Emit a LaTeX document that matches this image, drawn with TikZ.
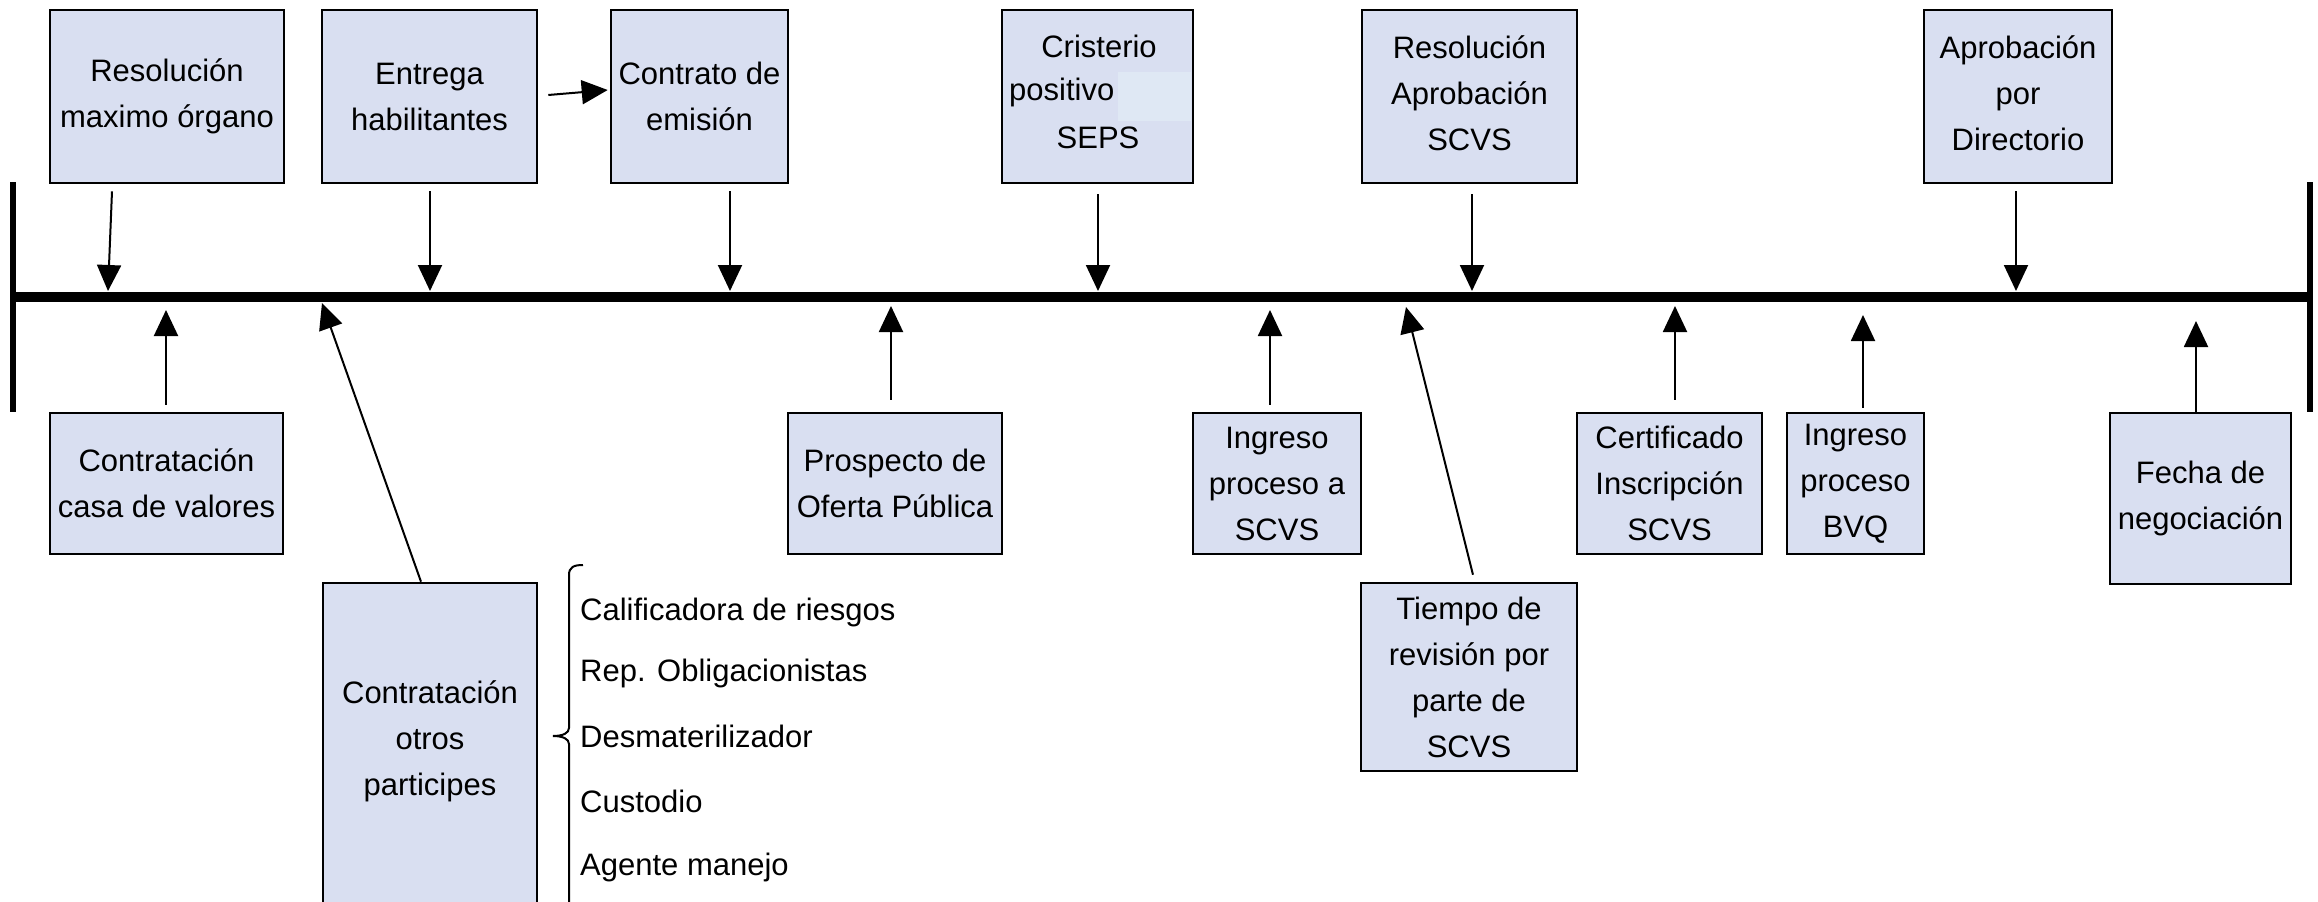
\documentclass[tikz,border=0pt]{standalone}
\usepackage{fontspec}
\setmainfont{Liberation Sans}
\usetikzlibrary{arrows.meta}
\definecolor{boxfill}{HTML}{D9DFF1}
\definecolor{hl}{HTML}{DFE8F4}
\begin{document}
\begin{tikzpicture}[x=1pt,y=-1pt,
 box/.style={draw=black, line width=2.6pt, fill=boxfill, inner sep=0pt, align=center, font=\fontsize{31}{46}\selectfont},
 txt/.style={inner sep=0pt, align=center, font=\fontsize{31}{46}\selectfont},
 arr/.style={line width=2pt, -{Triangle[length=26pt,width=24pt]}},
 bar/.style={line width=10.5pt},
 endline/.style={line width=6pt},
 item/.style={anchor=west, inner sep=0pt, font=\fontsize{31}{46}\selectfont}]
\useasboundingbox (0,0) rectangle (2318,902);

% timeline
\coordinate (barL) at (12.5,297);
\coordinate (barR) at (2310,297);
\draw[bar] (barL) -- (barR);
\coordinate (lt) at (12.5,182); \coordinate (lb) at (12.5,412);
\coordinate (rt) at (2310,182); \coordinate (rb) at (2310,412);
\draw[endline] (lt) -- (lb);
\draw[endline] (rt) -- (rb);

% top boxes
\node[box, minimum width=234pt, minimum height=173pt] (b1) at (167,96.5) {Resolución\\maximo órgano};
\node[box, minimum width=215pt, minimum height=173pt] (b2) at (429.5,96.5) {Entrega\\habilitantes};
\node[box, minimum width=177pt, minimum height=173pt] (b3) at (699.5,96.5) {Contrato de\\emisión};
\node[box, minimum width=191pt, minimum height=173pt] (b4) at (1097.5,96.5) {};
\fill[hl] (1118,72) rectangle (1191,121);
\node[txt] (b4a) at (1099,46) {Cristerio};
\node[txt, anchor=west] (b4b) at (1009,92) {positivo};
\node[txt] (b4c) at (1098,138) {SEPS};
\node[box, minimum width=215pt, minimum height=173pt] (b5) at (1469.5,96.5) {};
\node[txt] (b5t) at (1469.5,93) {Resolución\\Aprobación\\SCVS};
\node[box, minimum width=188pt, minimum height=173pt] (b6) at (2018,96.5) {};
\node[txt] (b6t) at (2018,93) {Aprobación\\por\\Directorio};

% bottom boxes
\node[box, minimum width=233pt, minimum height=141pt] (c1) at (166.5,483.5) {Contratación\\casa de valores};
\node[box, minimum width=214pt, minimum height=322pt] (c2) at (430,744) {};
\node[txt] (c2t) at (430,741) {Contratación\\otros\\participes};
\node[box, minimum width=214pt, minimum height=141pt] (c3) at (895,483.5) {Prospecto de\\Oferta Pública};
\node[box, minimum width=168pt, minimum height=141pt] (c4) at (1277,483.5) {Ingreso\\proceso a\\SCVS};
\node[box, minimum width=216pt, minimum height=188pt] (c5) at (1469,677) {Tiempo de\\revisión por\\parte de\\SCVS};
\node[box, minimum width=185pt, minimum height=141pt] (c6) at (1669.5,483.5) {Certificado\\Inscripción\\SCVS};
\node[box, minimum width=137pt, minimum height=141pt] (c7) at (1855.5,483.5) {Ingreso\\proceso\\BVQ};
\node[box, minimum width=181pt, minimum height=171pt] (c8) at (2200.5,498.5) {Fecha de\\negociación};

% arrow targets on the timeline
\coordinate (p1) at (108,291);
\coordinate (p2) at (430,291);
\coordinate (p3) at (730,291);
\coordinate (p4) at (1098,291);
\coordinate (p5) at (1472,291);
\coordinate (p6) at (2016,291);
\coordinate (q1) at (166,310);
\coordinate (q2) at (322,303);
\coordinate (q3) at (891,306);
\coordinate (q4) at (1270,310);
\coordinate (q5) at (1406,307);
\coordinate (q6) at (1675,306);
\coordinate (q7) at (1863,315);
\coordinate (q8) at (2196,321);

% arrows from top boxes
\draw[arr] ([xshift=-55pt,yshift=-7pt]b1.south) -- (p1);
\draw[arr] ([xshift=0.5pt,yshift=-7pt]b2.south) -- (p2);
\draw[arr] ([xshift=30.5pt,yshift=-7pt]b3.south) -- (p3);
\draw[arr] ([xshift=0.5pt,yshift=-10pt]b4.south) -- (p4);
\draw[arr] ([xshift=2.5pt,yshift=-10pt]b5.south) -- (p5);
\draw[arr] ([xshift=-2pt,yshift=-7pt]b6.south) -- (p6);
\draw[arr] ([xshift=10pt,yshift=1.5pt]b2.east) -- ([xshift=-2pt,yshift=6.5pt]b3.west);

% arrows from bottom boxes
\draw[arr] ([xshift=-0.5pt,yshift=7pt]c1.north) -- (q1);
\draw[arr] ([xshift=-9pt]c2.north) -- (q2);
\draw[arr] ([xshift=-4pt,yshift=12pt]c3.north) -- (q3);
\draw[arr] ([xshift=-7pt,yshift=7pt]c4.north) -- (q4);
\draw[arr] ([xshift=4pt,yshift=7pt]c5.north) -- (q5);
\draw[arr] ([xshift=5.5pt,yshift=12pt]c6.north) -- (q6);
\draw[arr] ([xshift=7.5pt,yshift=4pt]c7.north) -- (q7);
\draw[arr] ([xshift=-4.5pt,yshift=-2pt]c8.north) -- (q8);

% brace and list
\draw[line width=2pt] (583,565) .. controls (574,565) and (569,567) .. (569,575) -- (569,728)
  .. controls (569,733) and (563,736) .. (553,736) .. controls (563,736) and (569,739) .. (569,744) -- (569,905);
\node[item] (i1) at (580,612) {Calificadora de riesgos};
\node[item] (i2) at (580,673) {Rep. Obligacionistas};
\node[item] (i3) at (580,736) {Desmaterilizador};
\node[item] (i4) at (580,801) {Custodio};
\node[item] (i5) at (580,867) {Agente manejo};
\end{tikzpicture}
\end{document}
